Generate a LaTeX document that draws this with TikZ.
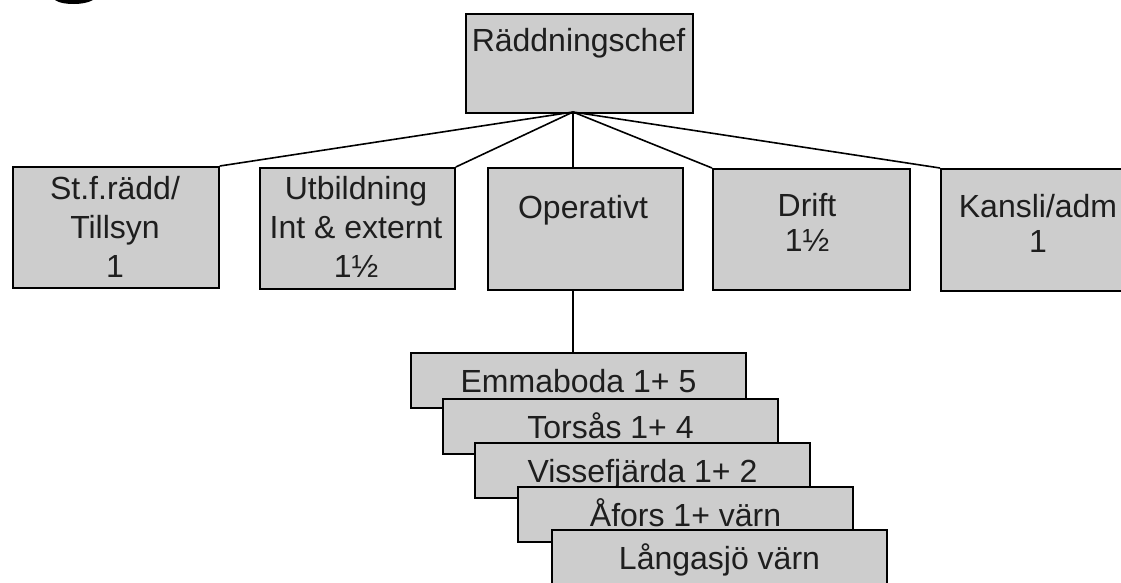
\documentclass[tikz,border=0pt]{standalone}
\usepackage{fontspec}
\setmainfont{Liberation Sans}
\definecolor{boxgray}{RGB}{205,205,205}
\definecolor{ink}{RGB}{30,30,30}
\begin{document}
\begin{tikzpicture}[x=1pt,y=-1pt,
  orgbox/.style={draw=black,line width=1.8pt,fill=boxgray,inner sep=0pt,anchor=north west},
  lbl/.style={text=ink,font=\fontsize{32}{39}\selectfont,align=center,inner sep=0pt},
  sublbl/.style={text=ink,font=\fontsize{32}{35}\selectfont,align=center,inner sep=0pt},
  stackbox/.style={draw=black,line width=1.8pt,fill=boxgray,inner sep=0pt,
    minimum width=335pt,minimum height=55pt,text=ink,
    font=\fontsize{32}{39}\selectfont,text height=23pt,text depth=0pt},
  link/.style={draw=black,line width=1.6pt}]
\clip (0,0) rectangle (1121,582);
\fill[white] (0,0) rectangle (1121,582);
% scanned logo fragment at the top left
\fill[black] (55,0) -- (93,0) .. controls (88,3) and (80,4) .. (74,4) .. controls (66,4) and (59,3) .. (55,0) -- cycle;
% top
\node[orgbox,minimum width=227pt,minimum height=99pt] (chef) at (465,13) {};
\node[lbl,anchor=base] (tchef) at (578.5,51) {Räddningschef};
% second row
\node[orgbox,minimum width=206pt,minimum height=121pt] (b1) at (12,166) {};
\node[orgbox,minimum width=195pt,minimum height=121pt] (b2) at (259,167) {};
\node[orgbox,minimum width=195pt,minimum height=122pt] (b3) at (487,167) {};
\node[orgbox,minimum width=197pt,minimum height=121pt] (b4) at (712,168) {};
\node[orgbox,minimum width=196pt,minimum height=122pt] (b5) at (940,168) {};
\node[lbl] (t1) at (115,227) {St.f.rädd/\\Tillsyn\\1};
\node[lbl] (t2) at (356,227) {Utbildning\\Int \& externt\\1½};
\node[lbl,anchor=base] (t3) at (583,218) {Operativt};
\node[sublbl] (t4) at (807,222) {Drift\\1½};
\node[sublbl] (t5) at (1038,223) {Kansli/adm\\1};
\coordinate (hub) at (573,112);
\draw[link] (hub) -- (b1.north east);
\draw[link] (hub) -- (b2.north east);
\draw[link] (hub) -- (hub |- b3.north);
\draw[link] (hub) -- (b4.north west);
\draw[link] (hub) -- (b5.north west);
% stations
\node[stackbox] (s1) at (578.5,380.5) {Emmaboda 1+ 5};
\node[stackbox] (s2) at (610.5,426.5) {Torsås 1+ 4};
\node[stackbox] (s3) at (642.5,470.5) {Vissefjärda 1+ 2};
\node[stackbox] (s4) at (685.5,514.5) {Åfors 1+ värn};
\node[stackbox] (s5) at (719.5,557.5) {Långasjö värn};
\draw[link] (hub |- b3.south) -- (hub |- s1.north);
\end{tikzpicture}
\end{document}
